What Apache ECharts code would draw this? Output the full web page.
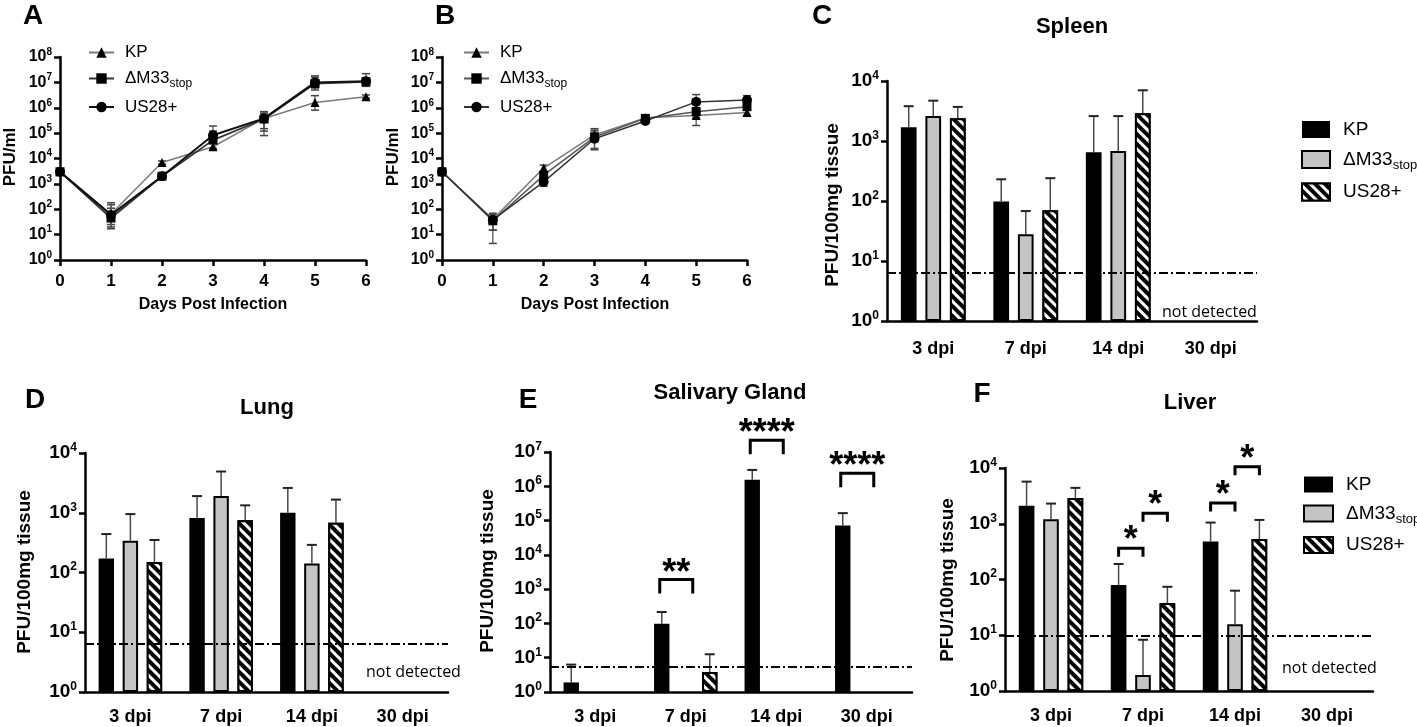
<!DOCTYPE html>
<html>
<head>
<meta charset="utf-8">
<script src="https://cdn.jsdelivr.net/npm/echarts@6/dist/echarts.min.js"></script>
<style>
html, body { margin: 0; padding: 0; background: #fff; }
#chart { width: 1417px; height: 727px; }
</style>
</head>
<body>
<div id="chart"></div>
<script>
// ---- growth curves (A: fibroblasts, B: second cell type), PFU/ml ----
var days = [0, 1, 2, 3, 4, 5, 6];

var kpA = [3000, 65, 7000, 29000, 380000, 1.6e6, 2.7e6];
var kpA_lo = [2500, 25, 6000, 22000, 120000, 8e5, 2.4e6];
var kpA_hi = [3500, 150, 8000, 40000, 600000, 3e6, 3.2e6];
var m33A = [3000, 45, 2000, 53000, 360000, 9e6, 1.05e7];
var m33A_lo = [2500, 17, 1600, 25000, 80000, 5e6, 7e6];
var m33A_hi = [3500, 110, 2600, 120000, 700000, 1.6e7, 1.5e7];
var usA = [3000, 60, 2000, 83000, 380000, 1e7, 1.1e7];
var usA_lo = [2500, 20, 1600, 40000, 150000, 6e6, 7e6];
var usA_hi = [3500, 180, 2500, 190000, 700000, 1.8e7, 2.2e7];

var kpB = [3000, 40, 4200, 85000, 400000, 5e5, 6.5e5];
var kpB_lo = [2500, 15, 3000, 50000, 300000, 2e5, 5e5];
var kpB_hi = [3500, 70, 5500, 130000, 500000, 7e5, 8e5];
var m33B = [3000, 35, 2200, 70000, 380000, 7e5, 1.1e6];
var m33B_lo = [2500, 4.5, 1500, 25000, 300000, 4e5, 8e5];
var m33B_hi = [3500, 60, 3000, 150000, 450000, 1e6, 1.5e6];
var usB = [3000, 38, 1200, 60000, 300000, 1.7e6, 2e6];
var usB_lo = [2500, 15, 800, 22000, 250000, 8e5, 1.3e6];
var usB_hi = [3500, 60, 1800, 110000, 350000, 3.3e6, 3e6];

// ---- organ titres, PFU/100mg tissue ----
var dpi = ['3 dpi', '7 dpi', '14 dpi', '30 dpi'];

var spleenKP = [1700, 98, 650, null],   spleenKP_err = [3800, 230, 2600, null];
var spleenM33 = [2600, 28, 680, null],  spleenM33_err = [4700, 68, 2600, null];
var spleenUS = [2400, 70, 2900, null],  spleenUS_err = [3700, 240, 7000, null];

var lungKP = [172, 820, 1000, null],    lungKP_err = [440, 1900, 2600, null];
var lungM33 = [340, 1900, 142, null],   lungM33_err = [950, 4900, 290, null];
var lungUS = [150, 750, 680, null],     lungUS_err = [350, 1330, 1660, null];

var salivKP = [1.9, 98, 1.55e6, 7.2e4], salivKP_err = [6.3, 215, 3e6, 1.65e5];
var salivM33 = [null, null, null, null], salivM33_err = [null, null, null, null];
var salivUS = [null, 3.8, null, null],  salivUS_err = [null, 12.6, null, null];

var liverKP = [2100, 80, 480, null],    liverKP_err = [5700, 190, 1050, null];
var liverM33 = [1200, 1.94, 15.8, null], liverM33_err = [2300, 8.3, 63, null];
var liverUS = [2900, 38, 530, null],    liverUS_err = [4400, 74, 1170, null];

// detection limits (dash-dot lines)
var lodSpleen = 6.3, lodLung = 6.3, lodSaliv = 5.6, lodLiver = 9.8;

// significance brackets: [category, from bar, to bar, bracket height]
var salivSig = [[1, 0, 1, 1900], [2, 0, 1, 2.2e7], [3, 0, 1, 2.4e6]];
var salivSigText = ['**', '****', '****'];
var liverSig = [[1, 0, 1, 365], [1, 1, 2, 1550], [2, 0, 1, 2350], [2, 1, 2, 10500]];
var liverSigText = ['*', '*', '*', '*'];

var FONT = '"Liberation Sans", Arial, sans-serif';
var BAR_W = 0.17, BAR_GAP = 0.56;
var STEP = BAR_W * (1 + BAR_GAP);

function powLabel(v) {
  var e = Math.round(Math.log(v) / Math.LN10);
  return '{b|10}{s|' + e + '}';
}

function logAxis(gi, max, fs) {
  return {
    type: 'log', logBase: 10, gridIndex: gi, min: 1, max: max, interval: 1,
    axisLine: { show: true, onZero: false, lineStyle: { color: '#000', width: 2.5 } },
    axisTick: { show: true, length: 6, lineStyle: { color: '#000', width: 2.5 } },
    splitLine: { show: false },
    axisLabel: {
      margin: 8, formatter: powLabel,
      rich: {
        b: { fontSize: fs, fontWeight: 'bold', fontFamily: FONT, color: '#000', lineHeight: fs + 4 },
        s: { fontSize: Math.round(fs * 0.65), fontWeight: 'bold', fontFamily: FONT, color: '#000', verticalAlign: 'top', lineHeight: 12 }
      }
    }
  };
}

function dayAxis(gi) {
  return {
    type: 'value', gridIndex: gi, min: 0, max: 6, interval: 1,
    axisLine: { onZero: false, lineStyle: { color: '#000', width: 2.5 } },
    axisTick: { length: 6, lineStyle: { color: '#000', width: 2.5 } },
    splitLine: { show: false },
    axisLabel: { margin: 13, color: '#000', fontSize: 17, fontWeight: 'bold', fontFamily: FONT }
  };
}

function catAxis(gi, margin) {
  return {
    type: 'category', gridIndex: gi, data: dpi, boundaryGap: true,
    axisLine: { onZero: false, lineStyle: { color: '#000', width: 2.5 } },
    axisTick: { alignWithLabel: true, length: 8, lineStyle: { color: '#000', width: 2.5 } },
    axisLabel: { margin: margin, interval: 0, color: '#000', fontSize: 18, fontWeight: 'bold', fontFamily: FONT }
  };
}

function lineSeries(name, gi, vals, symbol, size, lineColor, lineWidth) {
  return {
    type: 'line', name: name, xAxisIndex: gi, yAxisIndex: gi, z: 3,
    data: days.map(function (d, i) { return [d, vals[i]]; }),
    symbol: symbol, symbolSize: size, showSymbol: true,
    itemStyle: { color: '#000' },
    lineStyle: { color: lineColor, width: lineWidth }
  };
}

function lineErr(gi, lo, hi) {
  return {
    type: 'custom', xAxisIndex: gi, yAxisIndex: gi, z: 2, silent: true, clip: false,
    data: days.map(function (d, i) { return [d, lo[i], hi[i]]; }),
    encode: { x: 0, y: [1, 2] },
    renderItem: function (params, api) {
      var p = api.coord([api.value(0), api.value(1)]);
      var q = api.coord([api.value(0), api.value(2)]);
      var x = p[0];
      return { type: 'group', children: [
        { type: 'line', shape: { x1: x, y1: p[1], x2: x, y2: q[1] }, style: { stroke: '#555', lineWidth: 1.3 } },
        { type: 'line', shape: { x1: x - 4, y1: p[1], x2: x + 4, y2: p[1] }, style: { stroke: '#444', lineWidth: 1.5 } },
        { type: 'line', shape: { x1: x - 4, y1: q[1], x2: x + 4, y2: q[1] }, style: { stroke: '#444', lineWidth: 1.5 } }
      ] };
    }
  };
}

var kpStyle = { color: '#000' };
var m33Style = { color: '#c4c4c4', borderColor: '#000', borderWidth: 2 };
var usStyle = {
  color: '#000', borderColor: '#000', borderWidth: 2,
  decal: { symbol: 'rect', symbolSize: 1, color: '#fff', dashArrayX: [[1, 0]], dashArrayY: [2.5, 3.5], rotation: Math.PI / 4 }
};

function barSeries(name, gi, vals, style, lod) {
  var s = {
    type: 'bar', name: name, xAxisIndex: gi, yAxisIndex: gi, z: 2,
    data: vals, barWidth: (BAR_W * 100) + '%', barGap: (BAR_GAP * 100) + '%',
    itemStyle: style
  };
  if (lod != null) {
    s.markLine = {
      silent: true, symbol: 'none', label: { show: false },
      lineStyle: { type: [9, 3, 2, 3], color: '#000', width: 2 },
      data: [{ yAxis: lod }]
    };
  }
  return s;
}

function barErr(gi, slot, vals, tops) {
  var data = [];
  vals.forEach(function (v, i) { if (v != null && tops[i] != null) data.push([i, v, tops[i]]); });
  return {
    type: 'custom', xAxisIndex: gi, yAxisIndex: gi, z: 1, silent: true, clip: false,
    data: data, encode: { x: 0, y: [1, 2] },
    renderItem: function (params, api) {
      var p = api.coord([api.value(0), api.value(1)]);
      var q = api.coord([api.value(0), api.value(2)]);
      var band = api.size([1, 0], [api.value(0), api.value(1)])[0];
      var x = p[0] + (slot - 1) * band * STEP;
      return { type: 'group', children: [
        { type: 'line', shape: { x1: x, y1: p[1], x2: x, y2: q[1] }, style: { stroke: '#4a4a4a', lineWidth: 1.5 } },
        { type: 'line', shape: { x1: x - 5, y1: q[1], x2: x + 5, y2: q[1] }, style: { stroke: '#222', lineWidth: 2 } }
      ] };
    }
  };
}

function sigSeries(gi, sig, labels, leg, ext, textOff) {
  return {
    type: 'custom', xAxisIndex: gi, yAxisIndex: gi, z: 5, silent: true, clip: false,
    data: sig, encode: { x: 0, y: 3 },
    renderItem: function (params, api) {
      var c = api.coord([api.value(0), api.value(3)]);
      var band = api.size([1, 0], [api.value(0), api.value(3)])[0];
      var x1 = c[0] + (api.value(1) - 1) * band * STEP + ext[0];
      var x2 = c[0] + (api.value(2) - 1) * band * STEP + ext[1];
      var y = c[1];
      return { type: 'group', children: [
        { type: 'polyline', shape: { points: [[x1, y + leg], [x1, y], [x2, y], [x2, y + leg]] },
          style: { stroke: '#000', lineWidth: 3, fill: null } },
        { type: 'text', x: (x1 + x2) / 2, y: y + textOff,
          style: { text: labels[params.dataIndex], font: 'bold 36px ' + FONT, fill: '#000', textAlign: 'center', textVerticalAlign: 'middle' } }
      ] };
    }
  };
}

function legendName(name) {
  var n = name.split('#')[0];
  if (n === 'ΔM33stop') return '{m|ΔM33}{s|stop}';
  return '{m|' + n + '}';
}

function legendBox(left, top, names, fs, iw, ih, gap, pad, lineH, icon) {
  var lg = {
    left: left, top: top, orient: 'vertical', data: names, selectedMode: false,
    itemWidth: iw, itemHeight: ih, itemGap: gap, formatter: legendName,
    textStyle: {
      rich: {
        m: { fontSize: fs, fontFamily: FONT, color: '#000', lineHeight: lineH, padding: [0, 0, 0, pad] },
        s: { fontSize: Math.round(fs * 0.68), fontFamily: FONT, color: '#000', verticalAlign: 'bottom', lineHeight: 14 }
      }
    }
  };
  if (icon) lg.icon = icon;
  return lg;
}

function txt(x, y, s, size, weight, align, family, rot) {
  var el = {
    type: 'text', x: x, y: y,
    style: { text: s, font: weight + ' ' + size + 'px ' + (family || FONT), fill: '#000',
      textAlign: align || 'center', textVerticalAlign: 'middle' }
  };
  if (rot) el.rotation = rot;
  return el;
}

var chart = echarts.init(document.getElementById('chart'));

var option = {
  animation: false,
  backgroundColor: '#fff',
  grid: [
    { left: 60, top: 57, width: 306, height: 203 },
    { left: 442, top: 57, width: 305, height: 203 },
    { left: 887, top: 81, width: 370, height: 240 },
    { left: 85, top: 453, width: 363, height: 239 },
    { left: 550, top: 452, width: 362, height: 240 },
    { left: 1005, top: 468, width: 368, height: 223 }
  ],
  xAxis: [dayAxis(0), dayAxis(1), catAxis(2, 19), catAxis(3, 16), catAxis(4, 16), catAxis(5, 16)],
  yAxis: [logAxis(0, 1e8, 16), logAxis(1, 1e8, 16), logAxis(2, 1e4, 19), logAxis(3, 1e4, 19), logAxis(4, 1e7, 19), logAxis(5, 1e4, 19)],
  legend: [
    legendBox(83, 39, ['KP#A', 'ΔM33stop#A', 'US28+#A'], 17, 25, 13, 9, 6, 22),
    legendBox(458, 39, ['KP#B', 'ΔM33stop#B', 'US28+#B'], 17, 25, 13, 9, 6, 22),
    legendBox(1296, 115, ['KP#C', 'ΔM33stop#C', 'US28+#C'], 19, 28, 17, 11, 8, 24, 'rect'),
    legendBox(1298, 470, ['KP#F', 'ΔM33stop#F', 'US28+#F'], 19, 29, 16, 10, 8, 24, 'rect')
  ],
  series: [
    lineErr(0, kpA_lo, kpA_hi), lineErr(0, m33A_lo, m33A_hi), lineErr(0, usA_lo, usA_hi),
    lineSeries('KP#A', 0, kpA, 'triangle', 9, '#7a7a7a', 1.5),
    lineSeries('ΔM33stop#A', 0, m33A, 'rect', 9, '#333', 1.8),
    lineSeries('US28+#A', 0, usA, 'circle', 10, '#111', 2),

    lineErr(1, kpB_lo, kpB_hi), lineErr(1, m33B_lo, m33B_hi), lineErr(1, usB_lo, usB_hi),
    lineSeries('KP#B', 1, kpB, 'triangle', 9, '#7a7a7a', 1.5),
    lineSeries('ΔM33stop#B', 1, m33B, 'rect', 9, '#555', 1.5),
    lineSeries('US28+#B', 1, usB, 'circle', 10, '#333', 1.5),

    barSeries('KP#C', 2, spleenKP, kpStyle, lodSpleen),
    barSeries('ΔM33stop#C', 2, spleenM33, m33Style),
    barSeries('US28+#C', 2, spleenUS, usStyle),
    barErr(2, 0, spleenKP, spleenKP_err), barErr(2, 1, spleenM33, spleenM33_err), barErr(2, 2, spleenUS, spleenUS_err),

    barSeries('KP#D', 3, lungKP, kpStyle, lodLung),
    barSeries('ΔM33stop#D', 3, lungM33, m33Style),
    barSeries('US28+#D', 3, lungUS, usStyle),
    barErr(3, 0, lungKP, lungKP_err), barErr(3, 1, lungM33, lungM33_err), barErr(3, 2, lungUS, lungUS_err),

    barSeries('KP#E', 4, salivKP, kpStyle, lodSaliv),
    barSeries('ΔM33stop#E', 4, salivM33, m33Style),
    barSeries('US28+#E', 4, salivUS, usStyle),
    barErr(4, 0, salivKP, salivKP_err), barErr(4, 1, salivM33, salivM33_err), barErr(4, 2, salivUS, salivUS_err),
    sigSeries(4, salivSig, salivSigText, 14, [-2, 7], -6),

    barSeries('KP#F', 5, liverKP, kpStyle, lodLiver),
    barSeries('ΔM33stop#F', 5, liverM33, m33Style),
    barSeries('US28+#F', 5, liverUS, usStyle),
    barErr(5, 0, liverKP, liverKP_err), barErr(5, 1, liverM33, liverM33_err), barErr(5, 2, liverUS, liverUS_err),
    sigSeries(5, liverSig, liverSigText, 8.5, [0, 0], -7)
  ],
  graphic: [
    txt(33, 16, 'A', 28, 'bold'),
    txt(445, 16, 'B', 28, 'bold'),
    txt(822, 16, 'C', 28, 'bold'),
    txt(35, 400, 'D', 28, 'bold'),
    txt(528, 400, 'E', 28, 'bold'),
    txt(982, 394, 'F', 28, 'bold'),

    txt(1072, 27, 'Spleen', 22, 'bold'),
    txt(267, 408, 'Lung', 22, 'bold'),
    txt(730, 393, 'Salivary Gland', 22, 'bold'),
    txt(1190, 403, 'Liver', 22, 'bold'),

    txt(213, 305, 'Days Post Infection', 16, 'bold'),
    txt(595, 305, 'Days Post Infection', 16, 'bold'),

    txt(10, 157, 'PFU/ml', 17, 'bold', 'center', null, Math.PI / 2),
    txt(393, 157, 'PFU/ml', 17, 'bold', 'center', null, Math.PI / 2),
    txt(833, 205, 'PFU/100mg tissue', 19, 'bold', 'center', null, Math.PI / 2),
    txt(25, 572, 'PFU/100mg tissue', 19, 'bold', 'center', null, Math.PI / 2),
    txt(488, 571, 'PFU/100mg tissue', 19, 'bold', 'center', null, Math.PI / 2),
    txt(948, 580, 'PFU/100mg tissue', 19, 'bold', 'center', null, Math.PI / 2),

    txt(1162, 312, 'not detected', 16, 'normal', 'left', '"Open Sans", sans-serif'),
    txt(366, 672, 'not detected', 16, 'normal', 'left', '"Open Sans", sans-serif'),
    txt(1282, 668, 'not detected', 16, 'normal', 'left', '"Open Sans", sans-serif')
  ]
};

chart.setOption(option);
</script>
</body>
</html>
